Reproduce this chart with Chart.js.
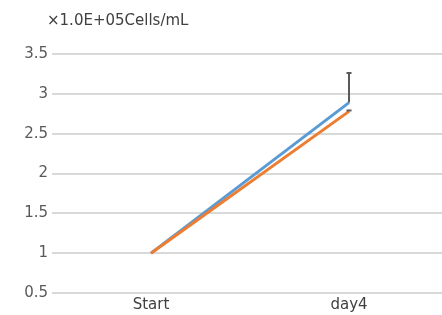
<!DOCTYPE html>
<html>
<head>
<meta charset="utf-8">
<script src="https://cdn.jsdelivr.net/npm/chart.js@4"></script>
<style>
  html, body { margin: 0; padding: 0; background: #fff; overflow: hidden; }
  #wrap { width: 450px; height: 315px; }
</style>
</head>
<body>
<div id="wrap"><canvas id="chart" width="450" height="315"></canvas></div>
<script>
const categories = ['Start', 'day4'];
const blueValues = [1, 2.89];
const orangeValues = [1, 2.78];
const blueErrPlus = [0, 0.37];
const orangeErrPlus = [0, 0.01];
const unitLabel = '×1.0E+05Cells/mL';

// draws the plus-only error bars on top of the lines
const errorBars = {
    id: 'errorBars',
    afterDatasetsDraw(chart) {
        const ctx = chart.ctx;
        const x = chart.scales.x;
        const y = chart.scales.y;
        const sets = [[blueValues, blueErrPlus], [orangeValues, orangeErrPlus]];
        ctx.save();
        ctx.strokeStyle = '#595959';
        ctx.lineWidth = 2;
        sets.forEach(([vals, errs]) => {
            vals.forEach((v, i) => {
                if (!errs[i]) return;
                const px = x.getPixelForValue(i);
                const y0 = y.getPixelForValue(v);
                const y1 = y.getPixelForValue(v + errs[i]);
                ctx.beginPath();
                ctx.moveTo(px, y0);
                ctx.lineTo(px, y1);
                ctx.moveTo(px - 2.5, y1);
                ctx.lineTo(px + 2.5, y1);
                ctx.stroke();
            });
        });
        ctx.restore();
    }
};

const unitTitle = {
    id: 'unitTitle',
    afterDraw(chart) {
        const ctx = chart.ctx;
        ctx.save();
        ctx.fillStyle = '#404040';
        ctx.font = '15px "DejaVu Sans"';
        ctx.textBaseline = 'middle';
        ctx.fillText(unitLabel, 47, 21);
        ctx.restore();
    }
};

new Chart(document.getElementById('chart').getContext('2d'), {
    type: 'line',
    data: {
        labels: categories,
        datasets: [
            {
                label: 'A',
                data: blueValues,
                borderColor: '#5B9BD5',
                borderWidth: 3,
                pointRadius: 0,
                order: 2
            },
            {
                label: 'B',
                data: orangeValues,
                borderColor: '#ED7D31',
                borderWidth: 3,
                pointRadius: 0,
                order: 1
            }
        ]
    },
    options: {
        responsive: false,
        animation: false,
        layout: { padding: { left: 0, right: 2, top: 54, bottom: 0 } },
        plugins: {
            legend: { display: false },
            tooltip: { enabled: false }
        },
        scales: {
            x: {
                offset: true,
                grid: { display: false, drawTicks: false },
                border: { display: false },
                ticks: {
                    color: '#404040',
                    font: { family: 'DejaVu Sans', size: 15 },
                    padding: 3
                },
                afterFit: (scale) => { scale.height = 22; }
            },
            y: {
                min: 0.5,
                max: 3.5,
                grid: { color: '#d9d9d9', lineWidth: 2, drawTicks: false },
                border: { display: false },
                ticks: {
                    stepSize: 0.5,
                    color: '#595959',
                    font: { family: 'DejaVu Sans', size: 15 },
                    padding: 4,
                    callback: (v) => String(v)
                },
                afterFit: (scale) => { scale.width = 52; }
            }
        }
    },
    plugins: [errorBars, unitTitle]
});
</script>
</body>
</html>
